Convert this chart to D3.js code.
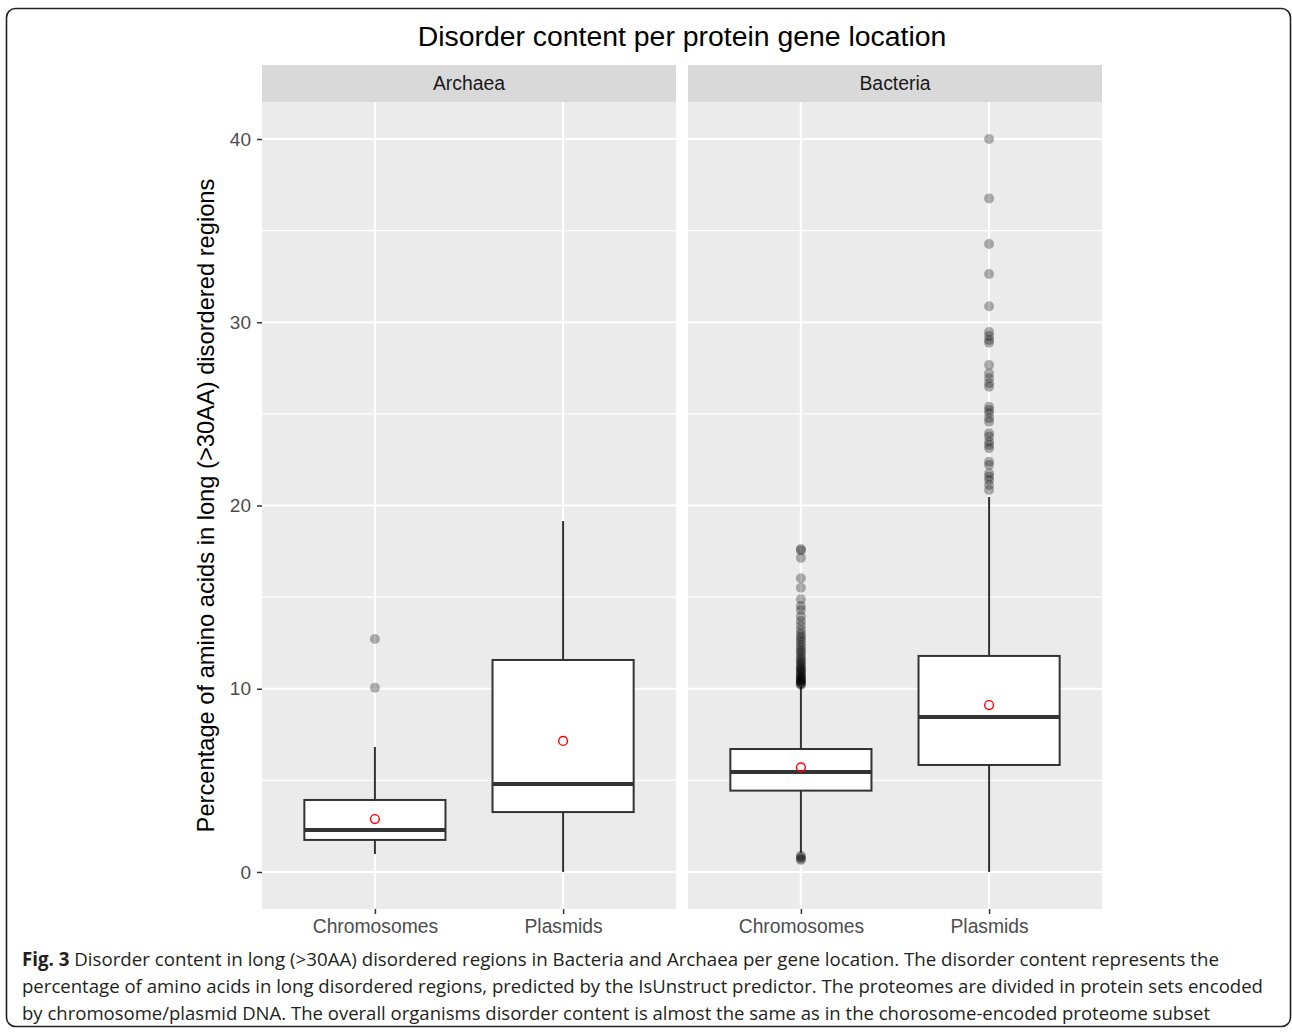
<!DOCTYPE html>
<html>
<head>
<meta charset="utf-8">
<script src="https://cdn.jsdelivr.net/npm/d3@7"></script>
<style>
  body { margin: 0; background: #fff; }
  svg { display: block; }
</style>
</head>
<body>
<div id="chart"></div>
<script>
const facets = ["Archaea", "Bacteria"];
const locations = ["Chromosomes", "Plasmids"];

// box statistics, order: Archaea/Chromosomes, Archaea/Plasmids, Bacteria/Chromosomes, Bacteria/Plasmids
const whiskerLow = [0.98, 0, 1.05, 0];
const quartile1 = [1.75, 3.27, 4.44, 5.84];
const medians = [2.29, 4.8, 5.46, 8.46];
const quartile3 = [3.93, 11.57, 6.71, 11.79];
const whiskerHigh = [6.82, 19.15, 10.1, 20.46];
const means = [2.89, 7.15, 5.71, 9.11];

const archaeaChrOutliers = [10.05, 12.71];
const archaeaPlasOutliers = [];
const bacteriaChrOutliers = [
  0.65, 0.72, 0.8, 0.88,
  10.2, 10.25, 10.3, 10.35, 10.4, 10.45, 10.5, 10.55, 10.6, 10.68, 10.75, 10.82, 10.9,
  10.98, 11.05, 11.12, 11.2, 11.3, 11.4, 11.5, 11.6, 11.72, 11.85, 12.0, 12.1, 12.25,
  12.4, 12.55, 12.7, 12.85, 13.0, 13.2, 13.45, 13.7, 13.95, 14.3, 14.52, 14.88,
  15.51, 16.03, 17.14, 17.55, 17.62
];
const bacteriaPlasOutliers = [
  20.85, 21.12, 21.39, 21.57, 21.76, 22.21, 22.39, 23.12, 23.3, 23.48, 23.76, 23.94,
  24.57, 24.76, 25.03, 25.21, 25.39, 26.48, 26.67, 26.94, 27.21, 27.67, 28.88, 29.03,
  29.25, 29.47, 30.87, 32.63, 34.27, 36.76, 40.0
];
const outlierSets = [archaeaChrOutliers, archaeaPlasOutliers, bacteriaChrOutliers, bacteriaPlasOutliers];

const yTicks = [0, 10, 20, 30, 40];
const yMinorTicks = [5, 15, 25, 35];

const titleText = "Disorder content per protein gene location";
const yTitleText = "Percentage of amino acids in long (>30AA) disordered regions";
const captionLines = [
  ["Fig. 3", " Disorder content in long (>30AA) disordered regions in Bacteria and Archaea per gene location. The disorder content represents the"],
  ["", "percentage of amino acids in long disordered regions, predicted by the IsUnstruct predictor. The proteomes are divided in protein sets encoded"],
  ["", "by chromosome/plasmid DNA. The overall organisms disorder content is almost the same as in the chorosome-encoded proteome subset"]
];
const captionWidths = [1197, 1241, 1188];

const width = 1292;
const height = 1033;
const panelTop = 102;
const panelBottom = 909;
const panelLeft = [262, 688];
const panelWidth = 414;
const stripHeight = 37;

const svg = d3.select("#chart")
  .append("svg")
  .attr("width", width)
  .attr("height", height)
  .style("font-family", "'Liberation Sans', Arial, sans-serif");

svg.append("rect")
  .attr("x", 6.5).attr("y", 8.5)
  .attr("width", 1284).attr("height", 1018)
  .attr("rx", 9).attr("ry", 9)
  .attr("fill", "#fff")
  .attr("stroke", "#222")
  .attr("stroke-width", 1.6);

const y = d3.scaleLinear()
  .domain([-2.02, 42.02])
  .range([panelBottom, panelTop]);

svg.append("text")
  .attr("x", 682)
  .attr("y", 46)
  .attr("text-anchor", "middle")
  .attr("font-size", 28.4)
  .attr("fill", "#000")
  .text(titleText);

facets.forEach((facet, fi) => {
  const left = panelLeft[fi];
  const x = d3.scalePoint()
    .domain(locations)
    .range([left, left + panelWidth])
    .padding(0.6);
  const step = x.step();
  const boxWidth = step * 0.75;

  const g = svg.append("g");

  // strip
  g.append("rect")
    .attr("x", left).attr("y", panelTop - stripHeight)
    .attr("width", panelWidth).attr("height", stripHeight)
    .attr("fill", "#d9d9d9");
  g.append("text")
    .attr("x", left + panelWidth / 2)
    .attr("y", panelTop - stripHeight / 2)
    .attr("dy", "0.35em")
    .attr("text-anchor", "middle")
    .attr("font-size", 19.4)
    .attr("fill", "#1a1a1a")
    .text(facet);

  // panel background + grid
  g.append("rect")
    .attr("x", left).attr("y", panelTop)
    .attr("width", panelWidth).attr("height", panelBottom - panelTop)
    .attr("fill", "#ebebeb");

  g.selectAll(".minor")
    .data(yMinorTicks)
    .enter()
    .append("line")
    .attr("x1", left).attr("x2", left + panelWidth)
    .attr("y1", (d) => y(d)).attr("y2", (d) => y(d))
    .attr("stroke", "#fff")
    .attr("stroke-width", 1.1);

  g.selectAll(".major")
    .data(yTicks)
    .enter()
    .append("line")
    .attr("x1", left).attr("x2", left + panelWidth)
    .attr("y1", (d) => y(d)).attr("y2", (d) => y(d))
    .attr("stroke", "#fff")
    .attr("stroke-width", 2.2);

  g.selectAll(".vgrid")
    .data(locations)
    .enter()
    .append("line")
    .attr("x1", (d) => x(d)).attr("x2", (d) => x(d))
    .attr("y1", panelTop).attr("y2", panelBottom)
    .attr("stroke", "#fff")
    .attr("stroke-width", 2.2);

  // x axis
  const xAxis = g.append("g")
    .attr("transform", `translate(0,${panelBottom})`)
    .call(d3.axisBottom(x).tickSize(5).tickPadding(5));
  xAxis.select(".domain").remove();
  xAxis.selectAll(".tick line").attr("stroke", "#333").attr("stroke-width", 1.5);
  xAxis.selectAll(".tick text")
    .attr("font-size", 19.3)
    .attr("font-family", "'Liberation Sans', Arial, sans-serif")
    .attr("fill", "#4d4d4d");

  // boxes
  locations.forEach((loc, li) => {
    const k = fi * 2 + li;
    const cx = x(loc);

    g.append("line")
      .attr("x1", cx).attr("x2", cx)
      .attr("y1", y(whiskerHigh[k])).attr("y2", y(quartile3[k]))
      .attr("stroke", "#333").attr("stroke-width", 2);
    g.append("line")
      .attr("x1", cx).attr("x2", cx)
      .attr("y1", y(quartile1[k])).attr("y2", y(whiskerLow[k]))
      .attr("stroke", "#333").attr("stroke-width", 2);

    g.append("rect")
      .attr("x", cx - boxWidth / 2)
      .attr("y", y(quartile3[k]))
      .attr("width", boxWidth)
      .attr("height", y(quartile1[k]) - y(quartile3[k]))
      .attr("fill", "#fff")
      .attr("stroke", "#333")
      .attr("stroke-width", 2);

    g.append("line")
      .attr("x1", cx - boxWidth / 2).attr("x2", cx + boxWidth / 2)
      .attr("y1", y(medians[k])).attr("y2", y(medians[k]))
      .attr("stroke", "#333").attr("stroke-width", 4);

    g.selectAll(`.out-${k}`)
      .data(outlierSets[k])
      .enter()
      .append("circle")
      .attr("cx", cx)
      .attr("cy", (d) => y(d))
      .attr("r", 5)
      .attr("fill", "#000")
      .attr("fill-opacity", 0.3);

    g.append("circle")
      .attr("cx", cx)
      .attr("cy", y(means[k]))
      .attr("r", 4.4)
      .attr("fill", "none")
      .attr("stroke", "#ff0000")
      .attr("stroke-width", 1.4);
  });
});

// y axis on the left panel
const yAxis = svg.append("g")
  .attr("transform", `translate(${panelLeft[0]},0)`)
  .call(d3.axisLeft(y).tickValues(yTicks).tickSize(5).tickPadding(6));
yAxis.select(".domain").remove();
yAxis.selectAll(".tick line").attr("stroke", "#333").attr("stroke-width", 1.5);
yAxis.selectAll(".tick text")
  .attr("font-size", 19)
  .attr("font-family", "'Liberation Sans', Arial, sans-serif")
  .attr("fill", "#4d4d4d");

svg.append("text")
  .attr("transform", `translate(214,${(panelTop + panelBottom) / 2}) rotate(-90)`)
  .attr("text-anchor", "middle")
  .attr("font-size", 23.7)
  .attr("fill", "#000")
  .text(yTitleText);

// caption
const caption = svg.append("g")
  .style("font-family", "'Open Sans', 'Noto Sans', sans-serif")
  .attr("font-size", 19)
  .attr("fill", "#231f20");

captionLines.forEach((line, i) => {
  const t = caption.append("text")
    .attr("x", 22)
    .attr("y", 966 + i * 27)
    .attr("textLength", captionWidths[i])
    .attr("lengthAdjust", "spacingAndGlyphs");
  if (line[0]) {
    t.append("tspan").attr("font-weight", "bold").text(line[0]);
  }
  t.append("tspan").text(line[1]);
});
</script>
</body>
</html>
